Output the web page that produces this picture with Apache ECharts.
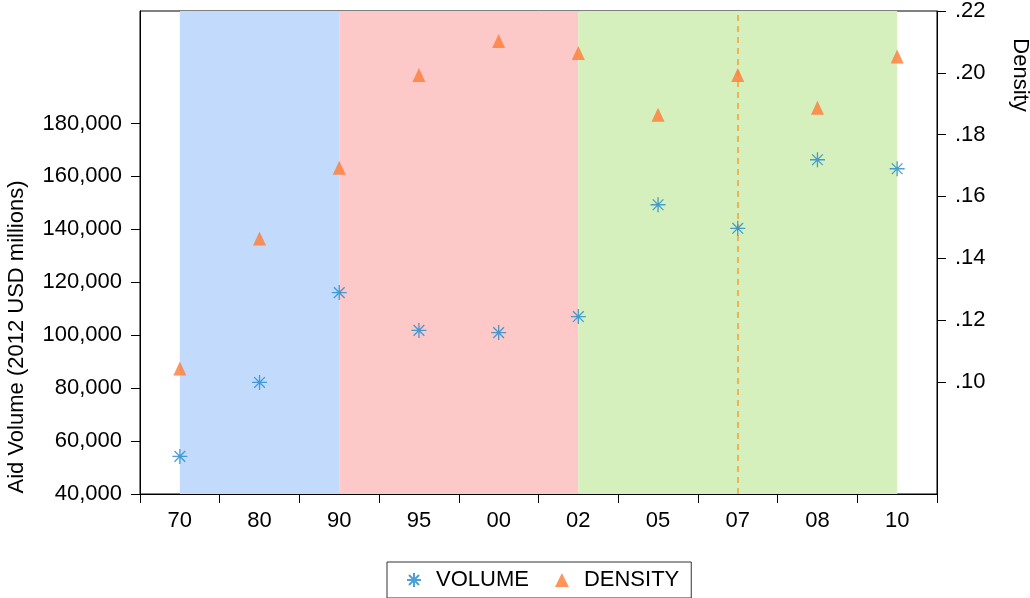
<!DOCTYPE html>
<html>
<head>
<meta charset="utf-8">
<script src="https://cdn.jsdelivr.net/npm/echarts@6/dist/echarts.min.js"></script>
<style>
  html, body { margin: 0; padding: 0; background: #fff; }
  #chart { width: 1030px; height: 598px; }
</style>
</head>
<body>
<div id="chart"></div>
<script>
// Period labels (year suffixes)
const categories = ['70', '80', '90', '95', '00', '02', '05', '07', '08', '10'];
// Aid volume, 2012 USD millions
const volume = [54200, 82150, 116100, 101800, 101000, 107050, 149300, 140400, 166300, 162900];
// Network density
const density = [0.1043, 0.1464, 0.1693, 0.1993, 0.2103, 0.2064, 0.1864, 0.1993, 0.1887, 0.2053];
// Tick labels
const volumeTicks = [40000, 60000, 80000, 100000, 120000, 140000, 160000, 180000];
const densityTicks = [0.10, 0.12, 0.14, 0.16, 0.18, 0.20, 0.22];
// Shaded periods and marked year
const periods = [['70', '90', '#c2dbfc'], ['90', '02', '#fdc8c8'], ['02', '10', '#d5f0bd']];
const markedYear = '07';

const FONT = "'Liberation Sans', Arial, sans-serif";
const SIZE = 22;
const asterisk = 'path://M7,0L7,14M0,7L14,7M2,2L12,12M2,12L12,2';

const chart = echarts.init(document.getElementById('chart'), null, { renderer: 'canvas' });

chart.setOption({
  animation: false,
  backgroundColor: '#fff',
  grid: {
    left: 140, right: 93, top: 10, bottom: 104,
    show: true, borderColor: '#000', borderWidth: 1, backgroundColor: 'transparent'
  },
  legend: {
    top: 562, left: 387,
    padding: [7, 12, 7, 19],
    borderColor: '#333', borderWidth: 1,
    itemWidth: 14, itemHeight: 14, itemGap: 26,
    textStyle: { fontFamily: FONT, fontSize: SIZE, color: '#000', padding: [0, 0, 0, 10] },
    data: ['VOLUME', 'DENSITY']
  },
  xAxis: {
    type: 'category',
    data: categories,
    boundaryGap: true,
    axisLine: { lineStyle: { color: '#000', width: 1 } },
    axisTick: { show: true, length: 9, lineStyle: { color: '#000' } },
    axisLabel: { fontFamily: FONT, fontSize: SIZE, color: '#000', margin: 16 },
    splitLine: { show: false }
  },
  yAxis: [
    {
      type: 'value',
      min: 40000, max: 222500,
      axisLine: { show: true, lineStyle: { color: '#000' } },
      axisTick: { show: true, length: 9, customValues: volumeTicks, lineStyle: { color: '#000' } },
      axisLabel: {
        fontFamily: FONT, fontSize: SIZE, color: '#000', margin: 18,
        customValues: volumeTicks,
        formatter: v => Math.round(v).toLocaleString('en-US')
      },
      splitLine: { show: false }
    },
    {
      type: 'value',
      min: 0.0637, max: 0.22,
      position: 'right',
      axisLine: { show: true, lineStyle: { color: '#000' } },
      axisTick: { show: true, length: 9, customValues: densityTicks, lineStyle: { color: '#000' } },
      axisLabel: {
        fontFamily: FONT, fontSize: SIZE, color: '#000', margin: 18,
        customValues: densityTicks,
        formatter: v => v.toFixed(2).replace(/^0/, '')
      },
      splitLine: { show: false }
    }
  ],
  graphic: [
    {
      type: 'text', x: 17, y: 337, rotation: Math.PI / 2,
      style: { text: 'Aid Volume (2012 USD millions)', font: SIZE + 'px ' + FONT, fill: '#000', align: 'center', verticalAlign: 'middle' }
    },
    {
      type: 'text', x: 1020, y: 75, rotation: -Math.PI / 2,
      style: { text: 'Density', font: SIZE + 'px ' + FONT, fill: '#000', align: 'center', verticalAlign: 'middle' }
    }
  ],
  series: [
    {
      name: 'VOLUME',
      type: 'scatter',
      yAxisIndex: 0,
      data: volume,
      symbol: asterisk,
      symbolSize: 15,
      z: 5,
      itemStyle: { color: '#1f88cc', borderColor: '#1f88cc', borderWidth: 1.3 },
      markArea: {
        silent: true,
        z: 1,
        data: periods.map(p => [{ xAxis: p[0], itemStyle: { color: p[2] } }, { xAxis: p[1] }])
      },
      markLine: {
        silent: true,
        symbol: 'none',
        label: { show: false },
        lineStyle: { color: '#f5a030', type: [6, 5], width: 1.5 },
        data: [{ xAxis: markedYear }]
      }
    },
    {
      name: 'DENSITY',
      type: 'scatter',
      yAxisIndex: 1,
      data: density,
      symbol: 'triangle',
      symbolSize: [13, 14],
      z: 5,
      itemStyle: { color: '#ff7a35' }
    }
  ]
});
</script>
</body>
</html>
